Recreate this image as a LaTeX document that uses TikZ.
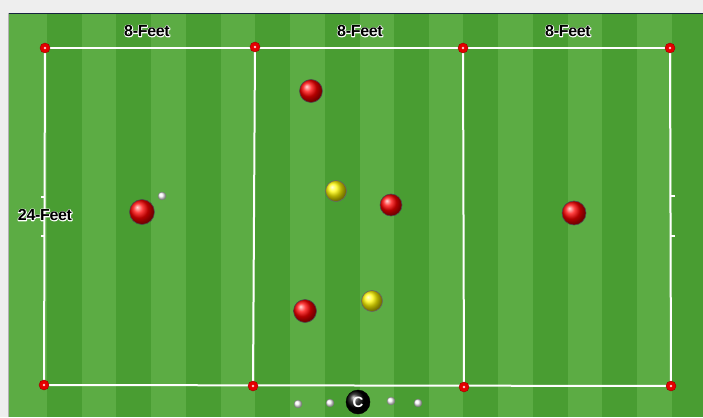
\documentclass[tikz,border=0pt]{standalone}
\usepackage{fontspec}
\setmainfont{Liberation Sans}
\newfontfamily\lblfont[LetterSpace=-2]{Liberation Sans Bold}
\usetikzlibrary{calc}
\definecolor{bggray}{RGB}{238,238,238}
\definecolor{lightg}{RGB}{92,172,68}
\definecolor{darkg}{RGB}{73,157,50}
\definecolor{navy}{RGB}{22,36,62}
\newcommand\halo[1]{\rlap{\special{pdf:code 1 Tr 1.7 w 1 1 1 RG 1 j}#1\special{pdf:code 0 Tr 0.4 w 0 0 0 RG 0 j}}#1}
\tikzset{
  lbl/.style={inner sep=0pt, font=\lblfont\fontsize{16}{16}\selectfont, text=black},
  cone/.style={circle, inner sep=0pt, minimum size=10pt, fill=red!90!black, draw=red!60!black, line width=0.4pt},
  redp/.style={circle, inner sep=0pt, minimum size=23pt, ball color=red, draw=black!70, line width=0.6pt},
  yelp/.style={circle, inner sep=0pt, minimum size=21pt, ball color=yellow!95!orange, draw=black!60, line width=0.6pt},
  sball/.style={circle, inner sep=0pt, minimum size=8pt, ball color=white, draw=gray, line width=0.3pt},
  coach/.style={circle, inner sep=0pt, minimum size=24pt, ball color=black, draw=black, text=white, font=\bfseries\fontsize{15}{15}\selectfont},
  fline/.style={white, line width=2pt},
}
\begin{document}
\begin{tikzpicture}[x=1pt,y=-1pt]
\useasboundingbox (0,0) rectangle (703,417);
\fill[bggray] (0,0) rectangle (703,417);
\fill[lightg] (8,13) rectangle (703,417);
\foreach \j in {0,...,9} {
  \fill[darkg] ({47+69.4*\j},13) rectangle ({min(703,82+69.4*\j)},417);
}
\draw[navy, line width=1.6pt] (8,13.5) -- (703,13.5);
\draw[gray!60, line width=0.8pt] (8,13) -- (8,417);
% corner cones positions
\coordinate (p1) at (45,48);
\coordinate (p2) at (255,47);
\coordinate (p3) at (463,48);
\coordinate (p4) at (670,48);
\coordinate (p5) at (44,385);
\coordinate (p6) at (253,386);
\coordinate (p7) at (464,387);
\coordinate (p8) at (671,386);
\draw[fline] (p1) -- (p4);
\draw[fline] (p5) -- (p8);
\draw[fline] (p1) -- (p5);
\draw[fline] (p2) -- (p6);
\draw[fline] (p3) -- (p7);
\draw[fline] (p4) -- (p8);
% ticks
\coordinate (tl1) at (45,197); \coordinate (tl1e) at (41,197);
\coordinate (tl2) at (45,236); \coordinate (tl2e) at (41,236);
\coordinate (tr1) at (671,196); \coordinate (tr1e) at (675,196);
\coordinate (tr2) at (671,236); \coordinate (tr2e) at (675,236);
\draw[white, line width=1.2pt] (tl1) -- (tl1e);
\draw[white, line width=1.2pt] (tl2) -- (tl2e);
\draw[white, line width=1.2pt] (tr1) -- (tr1e);
\draw[white, line width=1.2pt] (tr2) -- (tr2e);
\foreach \p in {1,...,8} {
  \node[cone] (c\p) at (p\p) {};
  \fill[white!80!red] (p\p) circle (1.3pt);
}
% labels
\node[lbl] (l1) at (147,31) {\halo{8-Feet}};
\node[lbl] (l2) at (360,31) {\halo{8-Feet}};
\node[lbl] (l3) at (568,31) {\halo{8-Feet}};
\node[lbl] (l4) at (45,215) {\halo{24-Feet}};
% players
\node[redp] (r1) at (311,91) {};
\node[redp, minimum size=25pt] (r2) at (142,212) {};
\node[redp, minimum size=22pt] (r3) at (391,205) {};
\node[redp, minimum size=24pt] (r4) at (574,213) {};
\node[redp] (r5) at (305,311) {};
\node[yelp] (y1) at (336,191) {};
\node[yelp] (y2) at (372,301) {};
% small balls
\node[sball] (b0) at (162,196) {};
\node[sball] (b1) at (298,404) {};
\node[sball] (b2) at (330,403) {};
\node[sball] (b3) at (391,401) {};
\node[sball] (b4) at (418,403) {};
\node[coach] (co) at (358,402) {C};
\end{tikzpicture}
\end{document}
